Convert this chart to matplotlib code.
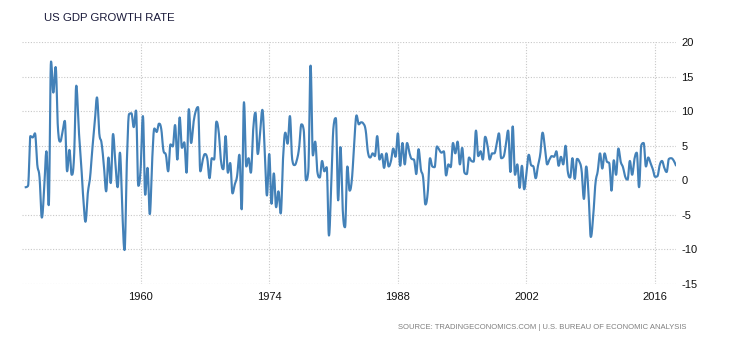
import numpy as np
import pandas as pd
import matplotlib
matplotlib.use('Agg')
import matplotlib.pyplot as plt

plt.rcParams['font.family'] = ['Liberation Sans', 'DejaVu Sans']
plt.rcParams['axes.unicode_minus'] = False

# quarterly real GDP growth, annualized %, 1947Q2 - 2018Q1
gdp_1947_1959 = [-1.0, -0.8, 6.4,
                 6.2, 6.8, 2.3, 0.4,
                 -5.4, -1.4, 4.2, -3.6,
                 17.2, 12.7, 16.4, 7.6,
                 5.6, 7.0, 8.6, 1.3,
                 4.4, 0.8, 3.2, 13.7,
                 7.7, 3.1, -2.4, -6.0,
                 -1.9, 0.4, 4.6, 8.1,
                 12.0, 6.8, 5.4, 2.2,
                 -1.6, 3.3, -0.4, 6.7,
                 2.6, -1.0, 4.0, -4.2,
                 -10.1, 2.6, 9.6, 9.7,
                 7.7, 10.1, -0.8, 1.6]
gdp_1960_1969 = [9.3, -2.1, 1.8, -4.9,
                 2.7, 7.5, 7.0, 8.2,
                 7.4, 4.2, 3.7, 1.3,
                 5.2, 4.9, 8.0, 3.0,
                 9.1, 4.7, 5.5, 1.1,
                 10.3, 5.4, 8.3, 10.0,
                 10.6, 1.3, 2.9, 3.8,
                 3.2, 0.3, 3.2, 3.0,
                 8.5, 7.0, 2.8, 1.6,
                 6.4, 1.1, 2.5, -1.9]
gdp_1970_1979 = [-0.6, 0.6, 3.7, -4.2,
                 11.3, 2.0, 3.2, 1.1,
                 7.3, 9.8, 3.8, 6.8,
                 10.2, 4.6, -2.2, 3.8,
                 -3.4, 1.0, -3.9, -1.6,
                 -4.8, 3.1, 6.9, 5.3,
                 9.3, 3.0, 2.2, 2.9,
                 4.7, 8.1, 7.3, 0.0,
                 1.3, 16.6, 3.6, 5.6,
                 1.1, 0.4, 2.8, 1.3]
gdp_1980_1989 = [1.9, -8.0, -0.5, 7.8,
                 9.0, -2.9, 4.8, -4.3,
                 -6.8, 2.0, -1.5, 0.2,
                 5.4, 9.4, 8.1, 8.4,
                 8.2, 7.2, 4.0, 3.3,
                 3.9, 3.5, 6.4, 3.0,
                 3.8, 1.8, 3.9, 2.0,
                 2.8, 4.6, 3.4, 6.8,
                 2.1, 5.4, 2.3, 5.4,
                 4.0, 3.1, 3.0, 0.9]
gdp_1990_1999 = [4.5, 1.6, 0.4, -3.5,
                 -1.8, 3.2, 2.0, 1.9,
                 4.9, 4.4, 4.0, 4.2,
                 0.7, 2.3, 1.9, 5.4,
                 3.9, 5.6, 2.3, 4.7,
                 1.1, 0.9, 3.3, 2.8,
                 2.7, 7.2, 3.5, 4.2,
                 3.0, 6.3, 5.1, 3.0,
                 3.9, 3.9, 5.2, 6.8,
                 3.2, 3.4, 5.1, 7.2]
gdp_2000_2009 = [1.2, 7.8, 0.8, 2.3,
                 -1.1, 2.1, -1.3, 1.1,
                 3.7, 2.2, 2.0, 0.3,
                 2.1, 3.8, 6.9, 4.8,
                 2.3, 3.0, 3.5, 3.4,
                 4.2, 2.1, 3.4, 2.3,
                 5.0, 1.2, 0.4, 3.2,
                 0.2, 3.1, 2.7, 1.4,
                 -2.7, 2.0, -1.9, -8.2,
                 -5.4, -0.5, 1.3, 3.9]
gdp_2010_2018 = [1.7, 3.9, 2.7, 2.5,
                 -1.5, 2.9, 0.8, 4.6,
                 2.7, 1.9, 0.5, 0.1,
                 2.8, 0.8, 3.1, 4.0,
                 -1.0, 5.1, 5.4, 2.0,
                 3.3, 2.5, 1.6, 0.5,
                 0.6, 2.2, 2.8, 1.8,
                 1.2, 3.1, 3.2, 2.9,
                 2.2]

growth = np.array(gdp_1947_1959 + gdp_1960_1969 + gdp_1970_1979 + gdp_1980_1989
                  + gdp_1990_1999 + gdp_2000_2009 + gdp_2010_2018)
periods = pd.period_range('1947Q2', periods=len(growth), freq='Q')
x = np.array(periods.year + periods.quarter / 4.0)

year_ticks = [1960, 1974, 1988, 2002, 2016]
value_ticks = [-15, -10, -5, 0, 5, 10, 15, 20]


def spline(xs, ys, smoothing=1.5, steps=12):
    # smooth line through the points, control points kept between neighbours
    n = len(xs)
    lx, ly = xs.astype(float).copy(), ys.astype(float).copy()
    rx, ry = lx.copy(), ly.copy()
    d = smoothing + 1
    for i in range(1, n - 1):
        px, py = xs[i], ys[i]
        ax_, ay_ = xs[i - 1], ys[i - 1]
        bx_, by_ = xs[i + 1], ys[i + 1]
        lcx, lcy = (smoothing * px + ax_) / d, (smoothing * py + ay_) / d
        rcx, rcy = (smoothing * px + bx_) / d, (smoothing * py + by_) / d
        corr = (rcy - lcy) * (rcx - px) / (rcx - lcx) + py - rcy
        lcy += corr
        rcy += corr
        if lcy > ay_ and lcy > py:
            lcy = max(ay_, py)
            rcy = 2 * py - lcy
        elif lcy < ay_ and lcy < py:
            lcy = min(ay_, py)
            rcy = 2 * py - lcy
        if rcy > by_ and rcy > py:
            rcy = max(by_, py)
            lcy = 2 * py - rcy
        elif rcy < by_ and rcy < py:
            rcy = min(by_, py)
            lcy = 2 * py - rcy
        lx[i], ly[i], rx[i], ry[i] = lcx, lcy, rcx, rcy
    t = np.linspace(0, 1, steps)[:-1, None]
    out = []
    for i in range(n - 1):
        p0 = np.array([xs[i], ys[i]])
        p1 = np.array([rx[i], ry[i]])
        p2 = np.array([lx[i + 1], ly[i + 1]])
        p3 = np.array([xs[i + 1], ys[i + 1]])
        seg = ((1 - t) ** 3) * p0 + 3 * ((1 - t) ** 2) * t * p1 \
            + 3 * (1 - t) * t ** 2 * p2 + t ** 3 * p3
        out.append(seg)
    out.append(np.array([[xs[-1], ys[-1]]]))
    out = np.vstack(out)
    return out[:, 0], out[:, 1]


fig = plt.figure(figsize=(7.3, 3.4), dpi=100)
ax = fig.add_axes([0.030, 0.165, 0.896, 0.711])

sx, sy = spline(x, growth)
ax.plot(sx, sy, color='#4381b8', lw=1.55, solid_joinstyle='round', zorder=3)

ax.set_xlim(1947.08, 2018.27)
ax.set_ylim(-15, 20)
ax.set_xticks(year_ticks)
ax.set_xticklabels([str(y) for y in year_ticks])
ax.set_yticks(value_ticks)
ax.yaxis.tick_right()
ax.tick_params(axis='both', length=0, labelsize=8, colors='#111111')
ax.tick_params(axis='y', pad=4)
ax.tick_params(axis='x', pad=6)
ax.grid(True, color='#c8c8c8', ls=(0, (1, 1.5)), lw=0.8)
for s in ax.spines.values():
    s.set_visible(False)

fig.text(0.060, 0.948, 'US GDP GROWTH RATE', fontsize=8.2, color='#1a1a3a',
         ha='left', va='center')
fig.text(0.940, 0.038, 'SOURCE: TRADINGECONOMICS.COM | U.S. BUREAU OF ECONOMIC ANALYSIS',
         fontsize=5.5, color='#7f7f7f', ha='right', va='center')

fig.savefig('out.png', dpi=100)
